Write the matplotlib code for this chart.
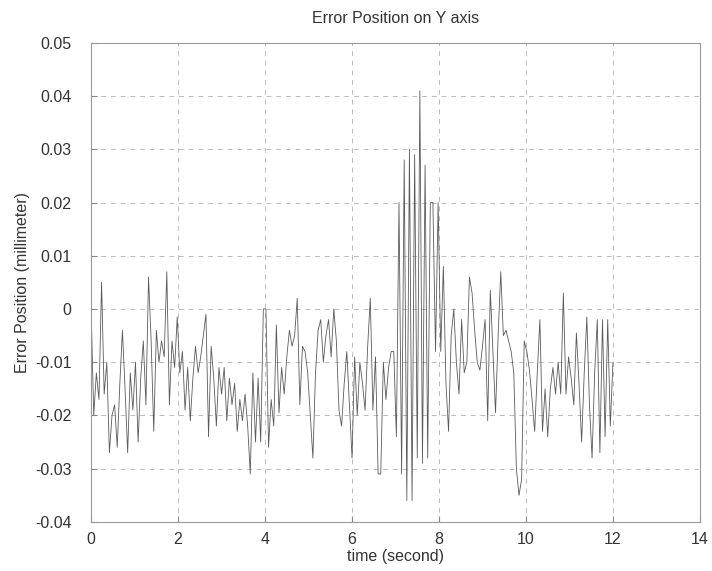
### error position on Y axis vs time (scanned MATLAB-style plot)

import numpy as np
import matplotlib
matplotlib.use("Agg")
import matplotlib.pyplot as plt

plt.rcParams['font.family'] = ['Liberation Sans', 'DejaVu Sans']

err_y = [
    0.000, -0.020, -0.012, -0.017, 0.005, -0.016, -0.010, -0.027, -0.020, -0.018,
    -0.026, -0.014, -0.004, -0.015, -0.027, -0.012, -0.019, -0.010, -0.025, -0.013,
    -0.006, -0.018, 0.006, -0.006, -0.023, -0.004, -0.010, -0.006, -0.009, 0.007,
    -0.018, -0.006, -0.011, -0.0015, -0.012, -0.008, -0.019, -0.011, -0.021, -0.013,
    -0.007, -0.012, -0.009, -0.005, -0.001, -0.024, -0.007, -0.013, -0.022, -0.011,
    -0.016, -0.011, -0.021, -0.013, -0.018, -0.014, -0.023, -0.017, -0.021, -0.016,
    -0.022, -0.031, -0.012, -0.025, -0.013, -0.025, 0.000, 0.000, -0.026, -0.017,
    -0.022, -0.003, -0.0195, -0.011, -0.016, -0.009, -0.004, -0.007, -0.005, 0.002,
    -0.018, -0.007, -0.008, -0.012, -0.020, -0.028, -0.012, -0.004, -0.002, -0.010,
    -0.005, -0.002, -0.009, 0.000, -0.006, -0.019, -0.022, -0.014, -0.008, -0.018,
    -0.028, -0.009, -0.020, -0.010, -0.014, -0.019, -0.007, 0.002, -0.019, -0.009,
    -0.031, -0.031, -0.010, -0.017, -0.011, -0.008, -0.008, -0.024, 0.020, -0.031,
    0.028, -0.036, 0.030, -0.036, 0.029, -0.028, 0.041, -0.029, 0.027, -0.028,
    0.020, 0.020, -0.008, 0.020, -0.008, 0.008, -0.014, -0.023, -0.005, 0.000,
    -0.010, -0.016, -0.002, -0.012, -0.010, 0.006, 0.003, -0.004, -0.010, -0.0115,
    -0.007, -0.002, -0.021, 0.0035, -0.008, -0.0195, -0.005, 0.007, -0.005, -0.004,
    -0.006, -0.008, -0.012, -0.030, -0.035, -0.032, -0.006, -0.008, -0.0115, -0.017,
    -0.023, -0.012, -0.002, -0.023, -0.015, -0.024, -0.015, -0.011, -0.016, -0.010,
    -0.016, 0.003, -0.016, -0.009, -0.013, -0.018, -0.0045, -0.014, -0.025, -0.012,
    -0.0015, -0.018, -0.028, -0.012, -0.002, -0.027, -0.002, -0.024, -0.002, -0.022,
    -0.010,
]
t_start, t_end = 0.0, 12.0
x_ticks = [0, 2, 4, 6, 8, 10, 12, 14]
y_ticks = [-0.04, -0.03, -0.02, -0.01, 0, 0.01, 0.02, 0.03, 0.04, 0.05]
y_ticklabels = ["-0.04", "-0.03", "-0.02", "-0.01", "0", "0.01", "0.02", "0.03", "0.04", "0.05"]

time = np.linspace(t_start, t_end, len(err_y))

fig = plt.figure(figsize=(7.12, 5.71), dpi=100)
ax = fig.add_axes([0.128, 0.086, 0.855, 0.839])

ax.plot(time, err_y, color="#5a5a5a", lw=0.6)

ax.set_xlim(0, 14)
ax.set_ylim(-0.04, 0.05)
ax.set_xticks(x_ticks)
ax.set_yticks(y_ticks)
ax.set_yticklabels(y_ticklabels)
ax.grid(True, ls=(0, (5, 5)), color="#bbbbbb", lw=0.7)
ax.tick_params(direction="in", length=4, color="#888888", labelsize=11.5, labelcolor="#333333")
ax.tick_params(axis="y", pad=14)
ax.tick_params(axis="x", pad=7)
for s in ax.spines.values():
    s.set_color("#999999")
    s.set_linewidth(0.8)

ax.set_title("Error Position on Y axis", fontsize=11.5, color="#333333", pad=14)
ax.set_xlabel("time (second)", fontsize=11.5, color="#333333", labelpad=2)
ax.set_ylabel("Error Position (millimeter)", fontsize=11.5, color="#333333", labelpad=4)

fig.savefig("out.png", dpi=100)
